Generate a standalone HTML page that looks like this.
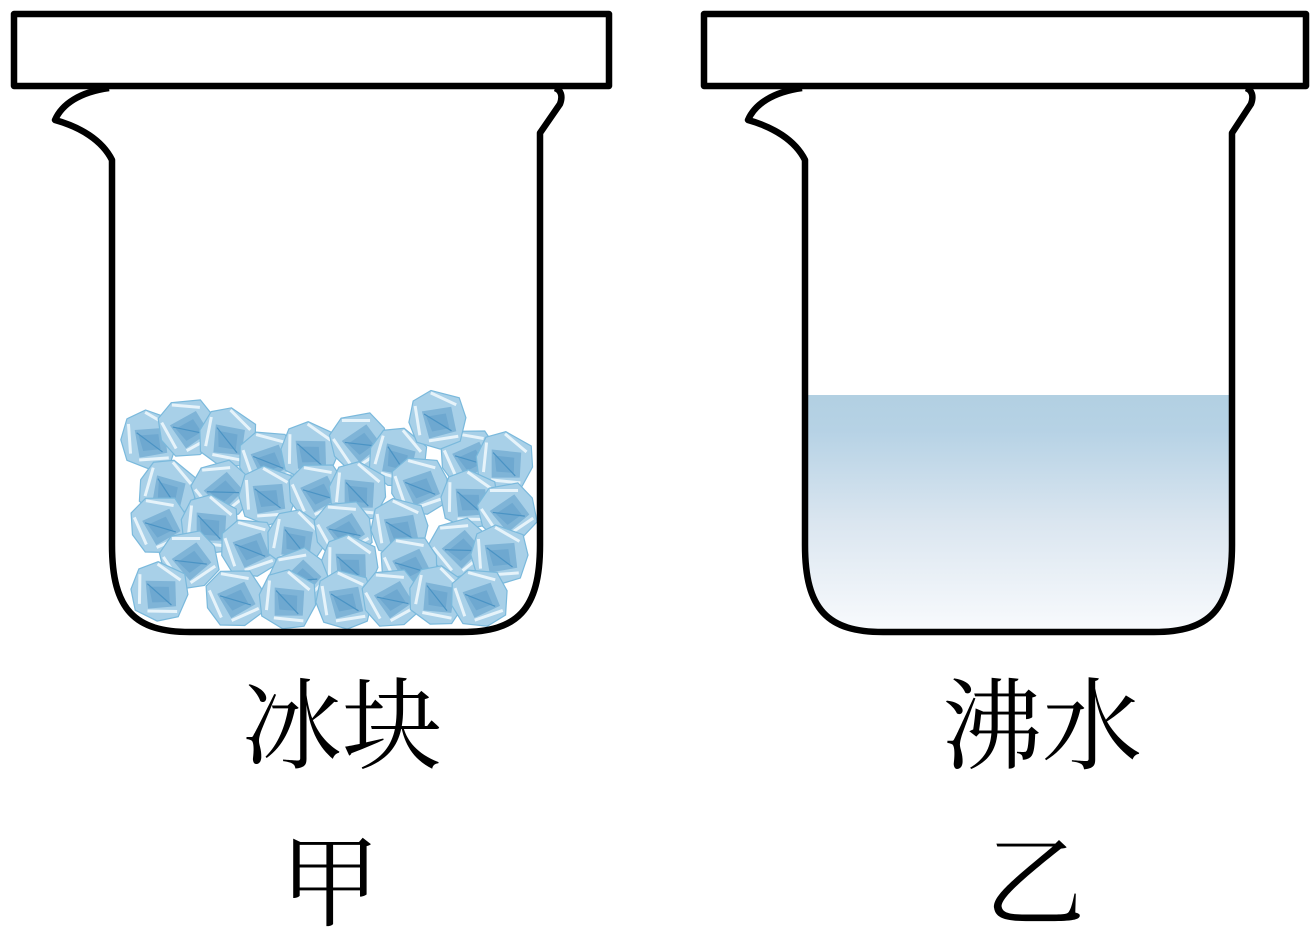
<!DOCTYPE html>
<html><head><meta charset="utf-8"><style>
html,body{margin:0;padding:0;background:#fff;}
svg{display:block;}
</style></head><body>
<svg width="1311" height="933" viewBox="0 0 1311 933" xmlns="http://www.w3.org/2000/svg">
<defs>
<linearGradient id="wg" x1="0" y1="0" x2="0" y2="1">
<stop offset="0" stop-color="#b2d0e2"/>
<stop offset="0.15" stop-color="#b6d2e5"/>
<stop offset="0.55" stop-color="#dbe6f0"/>
<stop offset="1" stop-color="#f8fafd"/>
</linearGradient>
<g id="cube">
<polygon points="-22,-14 -8,-24 16,-20 23,-4 20,16 4,24 -16,20 -24,4" fill="#a8d0e8" stroke="#7ab9dc" stroke-width="1"/>
<polygon points="-14,-6 10,-12 16,8 -6,16" fill="#7fb4d7"/>
<polygon points="-10,-2 6,-6 10,6 -4,10" fill="#6ea8d0"/>
<path d="M-20,-10 L-14,14 M-8,-22 L14,-14 M-6,18 L18,12" stroke="#e6f3fa" stroke-width="2.5" fill="none"/>
<path d="M-12,-4 L12,8" stroke="#4a93c4" stroke-width="1"/>
</g>
</defs>

<g>
<use href="#cube" transform="translate(150,440) rotate(10) scale(1.2)"/>
<use href="#cube" transform="translate(188,428) rotate(-15) scale(1.2)"/>
<use href="#cube" transform="translate(228,438) rotate(25) scale(1.2)"/>
<use href="#cube" transform="translate(268,460) rotate(-5) scale(1.2)"/>
<use href="#cube" transform="translate(310,452) rotate(15) scale(1.2)"/>
<use href="#cube" transform="translate(360,442) rotate(-20) scale(1.2)"/>
<use href="#cube" transform="translate(398,458) rotate(30) scale(1.2)"/>
<use href="#cube" transform="translate(470,458) rotate(-10) scale(1.2)"/>
<use href="#cube" transform="translate(505,462) rotate(20) scale(1.2)"/>
<use href="#cube" transform="translate(438,420) rotate(5) scale(1.2)"/>
<use href="#cube" transform="translate(168,490) rotate(30) scale(1.2)"/>
<use href="#cube" transform="translate(222,490) rotate(-25) scale(1.2)"/>
<use href="#cube" transform="translate(268,496) rotate(10) scale(1.2)"/>
<use href="#cube" transform="translate(318,492) rotate(-10) scale(1.2)"/>
<use href="#cube" transform="translate(358,492) rotate(20) scale(1.2)"/>
<use href="#cube" transform="translate(420,486) rotate(-5) scale(1.2)"/>
<use href="#cube" transform="translate(470,500) rotate(15) scale(1.2)"/>
<use href="#cube" transform="translate(508,512) rotate(-20) scale(1.2)"/>
<use href="#cube" transform="translate(160,525) rotate(-10) scale(1.2)"/>
<use href="#cube" transform="translate(210,525) rotate(20) scale(1.2)"/>
<use href="#cube" transform="translate(250,548) rotate(-5) scale(1.2)"/>
<use href="#cube" transform="translate(296,540) rotate(25) scale(1.2)"/>
<use href="#cube" transform="translate(344,530) rotate(-15) scale(1.2)"/>
<use href="#cube" transform="translate(400,528) rotate(5) scale(1.2)"/>
<use href="#cube" transform="translate(460,548) rotate(-25) scale(1.2)"/>
<use href="#cube" transform="translate(500,555) rotate(10) scale(1.2)"/>
<use href="#cube" transform="translate(190,560) rotate(-20) scale(1.2)"/>
<use href="#cube" transform="translate(350,565) rotate(15) scale(1.2)"/>
<use href="#cube" transform="translate(410,565) rotate(-10) scale(1.2)"/>
<use href="#cube" transform="translate(160,592) rotate(15) scale(1.2)"/>
<use href="#cube" transform="translate(235,598) rotate(-10) scale(1.2)"/>
<use href="#cube" transform="translate(300,578) rotate(-30) scale(1.2)"/>
<use href="#cube" transform="translate(288,600) rotate(20) scale(1.2)"/>
<use href="#cube" transform="translate(345,600) rotate(5) scale(1.2)"/>
<use href="#cube" transform="translate(392,598) rotate(-15) scale(1.2)"/>
<use href="#cube" transform="translate(438,596) rotate(25) scale(1.2)"/>
<use href="#cube" transform="translate(480,598) rotate(-5) scale(1.2)"/>
</g>

<path d="M808,395 L1229,395 L1229,545 C1229,608 1208,630 1153,630 L885,630 C830,630 808,608 808,545 Z" fill="url(#wg)"/>

<g fill="none" stroke="#000" stroke-width="6.5" stroke-linejoin="round">
<rect x="14" y="14" width="595" height="72"/>
<path d="M109,88 C80,92 62,104 55,120 C80,127 102,140 112,160 L112,545 C112,610 135,632 190,632 L462,632 C517,632 540,610 540,545 L540,133 L560,104 C563,96 561,90 555,88"/>
<rect x="704" y="14" width="602" height="72"/>
<path d="M802,88 C773,92 755,104 748,120 C773,127 795,140 805,160 L805,545 C805,610 828,632 883,632 L1154,632 C1209,632 1232,610 1232,545 L1232,133 L1251,104 C1254,96 1252,90 1246,88"/>
</g>

<g font-family="'Liberation Serif','Noto Serif CJK SC',serif" font-size="100" fill="#000" text-anchor="middle">
<text x="342" y="761">冰块</text>
<text x="330" y="918">甲</text>
<text x="1042" y="761">沸水</text>
<text x="1035" y="918">乙</text>
</g>
</svg>
</body></html>
